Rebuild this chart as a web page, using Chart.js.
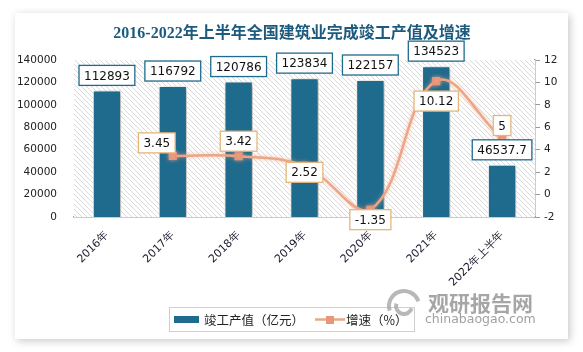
<!DOCTYPE html>
<html>
<head>
<meta charset="utf-8">
<script src="https://cdn.jsdelivr.net/npm/chart.js@4"></script>
<style>
  html, body { margin: 0; padding: 0; background: #fff; }
  body { width: 583px; height: 352px; position: relative; overflow: hidden; }
  .card { position: absolute; left: 15px; top: 13px; width: 553px; height: 326px; background: #fff;
          box-shadow: 2px 2px 8px rgba(0,0,0,0.22); }
  .wrap { position: absolute; left: 0; top: 0; width: 583px; height: 352px; }
</style>
</head>
<body>
<div class="card"></div>
<div class="wrap"><canvas id="chart" width="583" height="352"></canvas></div>
<script>
// categories and values
const categories = ['2016年', '2017年', '2018年', '2019年', '2020年', '2021年', '2022年上半年'];
const outputValues = [112893, 116792, 120786, 123834, 122157, 134523, 46537.7];
const growthRates = [null, 3.45, 3.42, 2.52, -1.35, 10.12, 5];

const titleText = '2016-2022年上半年全国建筑业完成竣工产值及增速';
const barLabel = '竣工产值（亿元）';
const lineLabel = '增速（%）';

// where each growth label sits relative to its point
const growthLabelOffsets = [null, [-16, -13], [0, -15], [0, 6], [0, 10], [0, 20], [0, -13]];

const BAR_COLOR = '#1F6B8E';
const LINE_COLOR = '#EEA586';
const POINT_COLOR = '#E8967A';

function hatchPattern(ctx) {
    const c = document.createElement('canvas');
    c.width = 5; c.height = 5;
    const p = c.getContext('2d');
    p.fillStyle = '#fff';
    p.fillRect(0, 0, 5, 5);
    p.strokeStyle = '#dadada';
    p.lineWidth = 1;
    p.beginPath();
    p.moveTo(0, 0); p.lineTo(5, 5);
    p.moveTo(-2.5, 2.5); p.lineTo(2.5, 7.5);
    p.moveTo(2.5, -2.5); p.lineTo(7.5, 2.5);
    p.stroke();
    return ctx.createPattern(c, 'repeat');
}

function drawBox(ctx, text, cx, cy, color) {
    const w = ctx.measureText(text).width + 10;
    const h = 20;
    ctx.fillStyle = '#fff';
    ctx.fillRect(cx - w / 2, cy - h / 2, w, h);
    ctx.lineWidth = 1.3;
    ctx.strokeStyle = color;
    ctx.strokeRect(cx - w / 2, cy - h / 2, w, h);
    ctx.fillStyle = '#111';
    ctx.fillText(text, cx, cy + 1);
}

const backgroundPlugin = {
    id: 'hatchBg',
    beforeDatasetsDraw(chart) {
        const { ctx, chartArea } = chart;
        ctx.save();
        ctx.fillStyle = hatchPattern(ctx);
        ctx.fillRect(chartArea.left, chartArea.top, chartArea.right - chartArea.left, chartArea.bottom - chartArea.top);
        ctx.restore();
    },
    beforeDatasetDraw(chart, args) {
        const ctx = chart.ctx;
        ctx.save();
        if (args.index === 0) {
            ctx.shadowColor = 'rgba(0,0,0,0.35)';
            ctx.shadowBlur = 5;
            ctx.shadowOffsetX = 2;
            ctx.shadowOffsetY = 1;
        } else {
            ctx.shadowColor = 'rgba(238,165,134,0.7)';
            ctx.shadowBlur = 4;
        }
    },
    afterDatasetDraw(chart) {
        chart.ctx.restore();
    }
};

const labelPlugin = {
    id: 'boxLabels',
    afterDatasetsDraw(chart) {
        const ctx = chart.ctx;
        ctx.save();
        ctx.font = '12px "DejaVu Sans"';
        ctx.textAlign = 'center';
        ctx.textBaseline = 'middle';
        chart.getDatasetMeta(0).data.forEach((bar, i) => {
            drawBox(ctx, String(outputValues[i]), bar.x, bar.y - 15, BAR_COLOR);
        });
        chart.getDatasetMeta(1).data.forEach((pt, i) => {
            if (growthRates[i] === null) return;
            const o = growthLabelOffsets[i];
            drawBox(ctx, String(growthRates[i]), pt.x + o[0], pt.y + o[1], '#E5B67A');
        });
        ctx.restore();
    }
};

const decorPlugin = {
    id: 'decor',
    afterDraw(chart) {
        const ctx = chart.ctx;
        ctx.save();
        // title
        ctx.font = 'bold 16px "Liberation Serif", "Noto Sans CJK SC"';
        ctx.fillStyle = '#1D5B7E';
        ctx.textAlign = 'center';
        ctx.textBaseline = 'middle';
        ctx.fillText(titleText, 292, 34);

        // legend
        ctx.strokeStyle = '#cfcfcf';
        ctx.lineWidth = 1;
        ctx.strokeRect(169.5, 307.5, 245, 24);
        ctx.fillStyle = BAR_COLOR;
        ctx.fillRect(174, 316, 25, 7);
        ctx.font = '12.5px "Noto Sans CJK SC"';
        ctx.fillStyle = '#222';
        ctx.textAlign = 'left';
        ctx.fillText(barLabel, 204, 320);
        ctx.strokeStyle = LINE_COLOR;
        ctx.lineWidth = 2.5;
        ctx.beginPath();
        ctx.moveTo(315, 319.5); ctx.lineTo(345, 319.5);
        ctx.stroke();
        ctx.fillStyle = POINT_COLOR;
        ctx.fillRect(326, 316, 8, 8);
        ctx.fillStyle = '#222';
        ctx.fillText(lineLabel, 346, 320);

        // watermark
        ctx.strokeStyle = 'rgba(160,160,160,0.75)';
        ctx.lineWidth = 4;
        ctx.beginPath();
        ctx.arc(404, 306, 15, Math.PI * 0.9, Math.PI * 1.9);
        ctx.stroke();
        ctx.beginPath();
        ctx.arc(404, 306, 8, Math.PI * 0.1, Math.PI * 1.1);
        ctx.stroke();
        ctx.font = 'bold 21px "Noto Sans CJK SC"';
        ctx.fillStyle = 'rgba(150,150,150,0.85)';
        ctx.fillText('观研报告网', 428, 303);
        ctx.font = '12.5px "DejaVu Sans"';
        ctx.fillStyle = 'rgba(150,150,150,0.9)';
        ctx.fillText('chinabaogao.com', 425, 320);
        ctx.restore();
    }
};

new Chart(document.getElementById('chart').getContext('2d'), {
    type: 'bar',
    data: {
        labels: categories,
        datasets: [{
            type: 'bar',
            label: barLabel,
            data: outputValues,
            yAxisID: 'y',
            backgroundColor: BAR_COLOR,
            borderColor: '#ffffff',
            borderWidth: 1,
            barPercentage: 0.43,
            categoryPercentage: 1,
            order: 1
        }, {
            type: 'line',
            label: lineLabel,
            data: growthRates,
            yAxisID: 'y1',
            borderColor: LINE_COLOR,
            borderWidth: 2.5,
            tension: 0.4,
            pointStyle: 'rect',
            pointRadius: 4,
            pointBackgroundColor: POINT_COLOR,
            pointBorderColor: POINT_COLOR,
            order: 0
        }]
    },
    options: {
        responsive: false,
        animation: false,
        layout: { padding: { top: 60, left: 0, right: 0, bottom: 0 } },
        plugins: {
            legend: { display: false },
            title: { display: false },
            tooltip: { enabled: false }
        },
        scales: {
            x: {
                grid: { display: false },
                border: { display: true, color: '#9a9a9a', width: 1.5 },
                ticks: {
                    color: '#1a1a2e',
                    font: { family: 'DejaVu Sans', size: 11 },
                    maxRotation: 45,
                    minRotation: 45,
                    padding: 4
                },
                afterFit: s => { s.height = 135; }
            },
            y: {
                position: 'left',
                min: 0,
                max: 140000,
                ticks: {
                    stepSize: 20000,
                    color: '#222',
                    font: { family: 'DejaVu Sans', size: 10.5 },
                    padding: 9,
                    callback: v => String(v)
                },
                grid: { display: false },
                border: { display: false },
                afterFit: s => { s.width = 74; }
            },
            y1: {
                position: 'right',
                min: -2,
                max: 12,
                ticks: {
                    stepSize: 2,
                    color: '#222',
                    font: { family: 'DejaVu Sans', size: 10.5 },
                    padding: 4,
                    callback: v => String(v)
                },
                grid: { drawOnChartArea: false, drawTicks: true, tickLength: 5, color: '#9a9a9a' },
                border: { display: true, color: '#9a9a9a', width: 1.5 },
                afterFit: s => { s.width = 48; }
            }
        }
    },
    plugins: [backgroundPlugin, labelPlugin, decorPlugin]
});
</script>
</body>
</html>
